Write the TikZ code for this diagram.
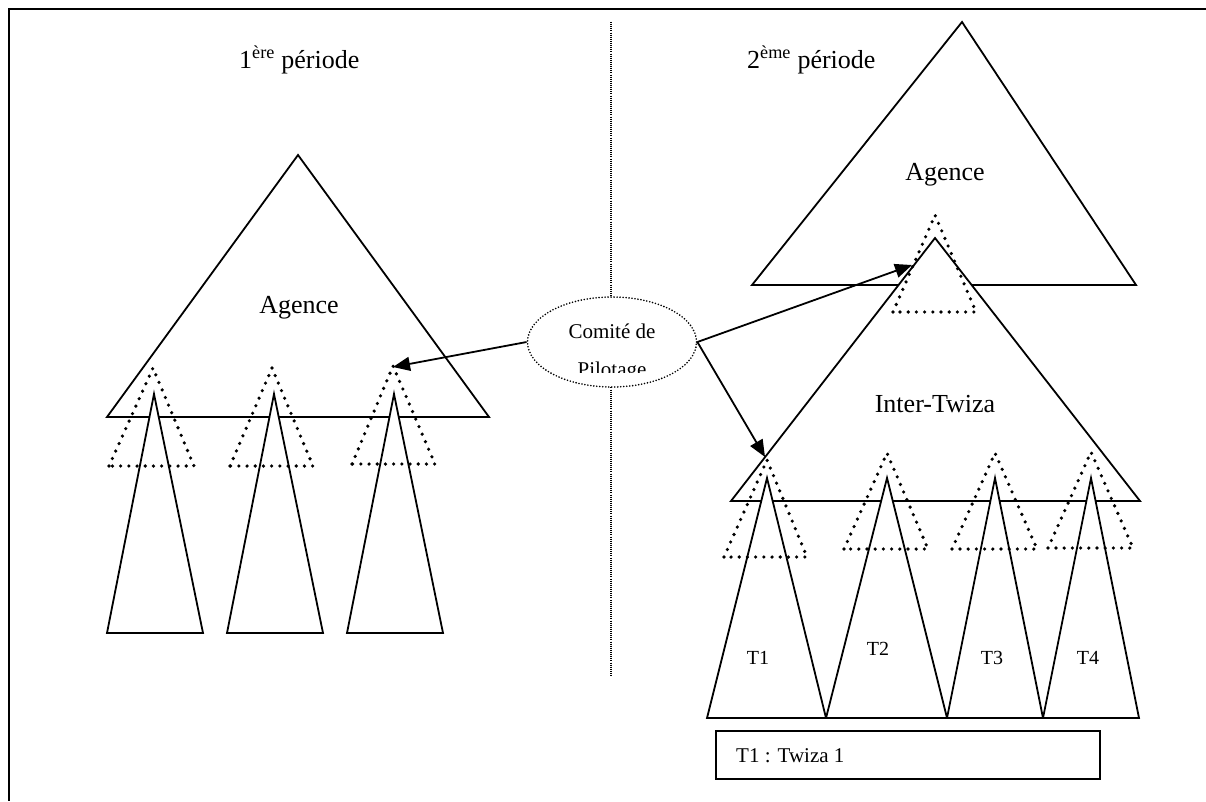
\documentclass[tikz,border=0pt]{standalone}
\usepackage{fontspec}
\setmainfont{Liberation Serif}
\usetikzlibrary{shapes.geometric,arrows.meta}
\begin{document}
\begin{tikzpicture}[x=1pt,y=-1pt,
  solidtri/.style={draw=black,fill=white,line width=1.8pt,line join=miter},
  opentri/.style={draw=black,line width=1.8pt,line join=miter},
  dottri/.style={draw=black,line width=3.6pt,line cap=round,dash pattern=on 0pt off 8.2pt},
  divider/.style={draw=black,line width=1.1pt,dash pattern=on 1pt off 1.1pt},
  frameline/.style={draw=black,line width=2.4pt},
  link/.style={draw=black,line width=1.8pt,-{Triangle[length=17pt,width=14pt]}},
  bigtext/.style={font=\fontsize{26}{30}\selectfont,inner sep=0pt},
  midtext/.style={font=\fontsize{21}{25}\selectfont,inner sep=0pt},
  smalltext/.style={font=\fontsize{20}{24}\selectfont,inner sep=0pt},
  comite/.style={ellipse,draw=black,fill=white,line width=1.8pt,line cap=round,
    dash pattern=on 0pt off 3pt,minimum width=169pt,minimum height=90pt,inner sep=0pt},
  legendbox/.style={draw=black,line width=1.8pt}
]
\useasboundingbox (0,0) rectangle (1206,801);

% page frame (top and left edges)
\draw[frameline] (1206,9) -- (9,9) -- (9,801);

% divider between the two periods
\draw[divider] (611,22) -- (611,677);

% ---- first period ----
\draw[opentri] (107,417) -- (298,155) -- (489,417) -- cycle;
\foreach \a/\l/\r in {154/107/203, 274/227/323, 394/347/443}
  \draw[solidtri] (\l,633) -- (\a,394) -- (\r,633) -- cycle;
\foreach \a/\ay/\l/\r/\b in {153/368/109/194/466, 272/368/230/313/466, 393/366/352/435/464}
  \draw[dottri] (\l,\b) -- (\a,\ay) -- (\r,\b) -- cycle;

% ---- second period ----
\draw[opentri] (752,285) -- (962,22) -- (1136,285) -- cycle;
\draw[solidtri] (731,501) -- (935,238) -- (1140,501) -- cycle;
\draw[dottri] (893,312) -- (935,215) -- (976,312) -- cycle;
\foreach \a/\l/\r in {767/707/826, 887/826/947, 995/947/1043, 1091/1043/1139}
  \draw[solidtri] (\l,718) -- (\a,478) -- (\r,718) -- cycle;
\foreach \a/\ay/\l/\r/\b in {767/460/724/807/557, 887/453/844/928/549, 995/453/952/1037/549, 1091/452/1048/1133/548}
  \draw[dottri] (\l,\b) -- (\a,\ay) -- (\r,\b) -- cycle;

% arrow targets
\coordinate (tgtLeft) at (393,367);
\coordinate (tgtTop) at (912,265);
\coordinate (tgtT1) at (765,457);

% steering committee
\node[comite] (com) at (612,342) {};
\begin{scope}
  \clip (528,296) rectangle (697,372);
  \node[midtext,anchor=base] (comA) at (612,338) {Comité de};
  \node[midtext,anchor=base] (comB) at (612,376) {Pilotage};
\end{scope}

\draw[link] (com.west) -- (tgtLeft);
\draw[link] (com.east) -- (tgtTop);
\draw[link] (com.east) -- (tgtT1);

% headings and labels
\node[bigtext,anchor=base west] (h1) at (239,68) {1\textsuperscript{ère} période};
\node[bigtext,anchor=base west] (h2) at (747,68) {2\textsuperscript{ème} période};
\node[bigtext,anchor=base] (ag1) at (299,313) {Agence};
\node[bigtext,anchor=base] (ag2) at (945,180) {Agence};
\node[bigtext,anchor=base] (it) at (935,412) {Inter-Twiza};
\node[smalltext,anchor=base] (t1) at (758,664) {T1};
\node[smalltext,anchor=base] (t2) at (878,655) {T2};
\node[smalltext,anchor=base] (t3) at (992,664) {T3};
\node[smalltext,anchor=base] (t4) at (1088,664) {T4};

% legend
\draw[legendbox] (716,731) rectangle (1100,779);
\node[midtext,anchor=base west] (leg) at (736,762) {T1 : Twiza 1};
\end{tikzpicture}
\end{document}
